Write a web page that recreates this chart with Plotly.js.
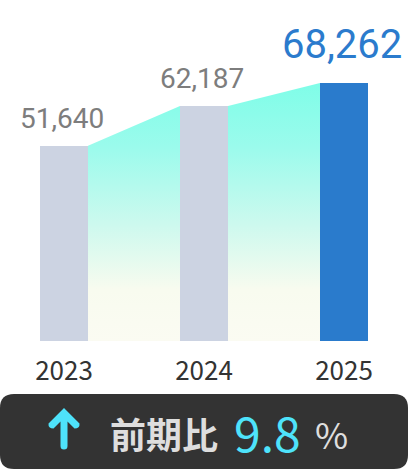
<!DOCTYPE html>
<html>
<head>
<meta charset="utf-8">
<script src="https://cdn.plot.ly/plotly-3.0.1.min.js"></script>
<style>
  html, body { margin: 0; padding: 0; background: #fff; }
  #plot { width: 408px; height: 470px; }
</style>
</head>
<body>
<div id="plot"></div>
<script>
// sales by year, with the YoY change shown in the dark strip under the chart
const years = ['2023', '2024', '2025'];
const sales = [51640, 62187, 68262];
const yoyLabel = '前期比';
const yoyValue = '9.8';
const yoyUnit = '%';

const W = 408, H = 470;
const plotH = 341;            // baseline of the bars, in px from the top
const barW = 48 / 140;        // bar width in category units

// px -> paper helpers for the things drawn under the plot area
const px = (x) => x / W;
const py = (y) => (plotH - y) / plotH;
const pt = (x, y) => px(x) + ',' + py(y);

const xs = years.map((_, i) => i);
const maxVal = Math.max(...sales);

const bars = {
  type: 'bar',
  x: xs,
  y: sales,
  width: barW,
  marker: {
    color: sales.map((_, i) => i === sales.length - 1 ? '#2a7bcc' : '#ccd3e2'),
    line: { width: 0 },
  },
  hoverinfo: 'skip',
  showlegend: false,
};

// gradient band joining the tops of neighbouring bars
const bands = [];
for (let i = 0; i < sales.length - 1; i++) {
  bands.push({
    type: 'scatter',
    mode: 'none',
    x: [xs[i] + barW / 2, xs[i + 1] - barW / 2],
    y: [sales[i], sales[i + 1]],
    fill: 'tozeroy',
    fillgradient: {
      type: 'vertical',
      start: 0,
      stop: maxVal,
      colorscale: [
        [0, '#fbfbf2'],
        [0.2, '#f8fbef'],
        [0.45, '#cdf9ee'],
        [0.75, '#9bfbec'],
        [1, '#7ffde8'],
      ],
    },
    hoverinfo: 'skip',
    showlegend: false,
  });
}

const annotations = sales.map((v, i) => {
  const last = i === sales.length - 1;
  return {
    x: xs[i], y: v, xref: 'x', yref: 'y',
    text: v.toLocaleString('en-US'),
    showarrow: false,
    xanchor: 'center', yanchor: 'bottom',
    xshift: -2,
    yshift: last ? 13 : 9,
    font: { family: 'Roboto', size: last ? 40 : 28, color: last ? '#2b7bcd' : '#7d7d7d' },
  };
});

annotations.push(
  {
    x: px(164), y: py(433), xref: 'paper', yref: 'paper',
    text: '<b>' + yoyLabel + '</b>', showarrow: false,
    xanchor: 'center', yanchor: 'middle',
    font: { family: 'Noto Sans CJK JP', size: 36, color: '#dedede' },
  },
  {
    x: px(267), y: py(431), xref: 'paper', yref: 'paper',
    text: yoyValue, showarrow: false,
    xanchor: 'center', yanchor: 'middle',
    font: { family: 'Noto Sans CJK JP', size: 48, color: '#4ee3fb' },
  },
  {
    x: px(331), y: py(433), xref: 'paper', yref: 'paper',
    text: yoyUnit, showarrow: false,
    xanchor: 'center', yanchor: 'middle',
    font: { family: 'Noto Sans CJK JP', size: 36, color: '#dedede' },
  }
);

// rounded dark strip
const r = 14, bx0 = 0, bx1 = W, by0 = 394, by1 = 469;
const boxPath =
  'M' + pt(bx0 + r, by0) +
  ' L' + pt(bx1 - r, by0) +
  ' Q' + pt(bx1, by0) + ' ' + pt(bx1, by0 + r) +
  ' L' + pt(bx1, by1 - r) +
  ' Q' + pt(bx1, by1) + ' ' + pt(bx1 - r, by1) +
  ' L' + pt(bx0 + r, by1) +
  ' Q' + pt(bx0, by1) + ' ' + pt(bx0, by1 - r) +
  ' L' + pt(bx0, by0 + r) +
  ' Q' + pt(bx0, by0) + ' ' + pt(bx0 + r, by0) + ' Z';

// up arrow
const arrowPath =
  'M' + pt(64, 408) +
  ' L' + pt(79.5, 423.5) +
  ' Q' + pt(80, 428.5) + ' ' + pt(74.5, 428.5) +
  ' L' + pt(67.5, 421.5) +
  ' L' + pt(67.5, 446) +
  ' Q' + pt(67.5, 449.5) + ' ' + pt(64, 449.5) +
  ' Q' + pt(60.5, 449.5) + ' ' + pt(60.5, 446) +
  ' L' + pt(60.5, 421.5) +
  ' L' + pt(53.5, 428.5) +
  ' Q' + pt(48, 428.5) + ' ' + pt(48.5, 423.5) + ' Z';

const layout = {
  width: W,
  height: H,
  margin: { l: 0, r: 0, t: 0, b: H - plotH },
  paper_bgcolor: '#ffffff',
  plot_bgcolor: '#ffffff',
  showlegend: false,
  bargap: 0,
  xaxis: {
    range: [-64 / 140, (W - 64) / 140],
    tickvals: xs,
    ticktext: years,
    ticks: '',
    showgrid: false,
    zeroline: false,
    showline: false,
    ticklabelstandoff: 12,
    tickfont: { family: 'Noto Sans CJK JP', size: 26, color: '#333333' },
    fixedrange: true,
  },
  yaxis: {
    range: [0, maxVal * plotH / 258],
    visible: false,
    showgrid: false,
    zeroline: false,
    fixedrange: true,
  },
  shapes: [
    { type: 'path', xref: 'paper', yref: 'paper', path: boxPath,
      fillcolor: '#333333', line: { width: 0 }, layer: 'above' },
    { type: 'path', xref: 'paper', yref: 'paper', path: arrowPath,
      fillcolor: '#4ee3fb', line: { width: 0 }, layer: 'above' },
  ],
  annotations: annotations,
};

Plotly.newPlot('plot', [...bands, bars], layout, { staticPlot: true, displayModeBar: false });
</script>
</body>
</html>
